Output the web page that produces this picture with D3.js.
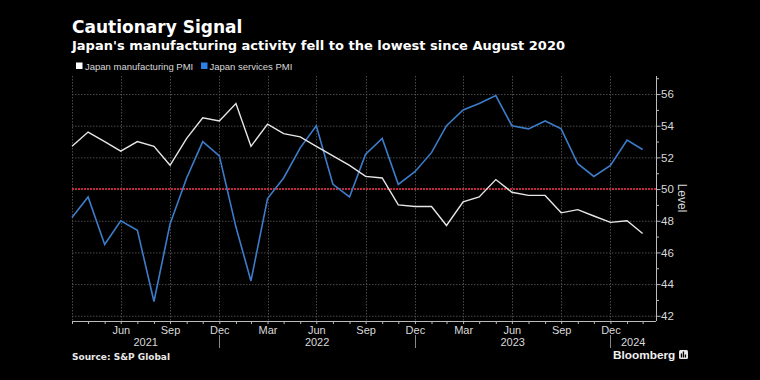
<!DOCTYPE html>
<html>
<head>
<meta charset="utf-8">
<script src="https://cdn.jsdelivr.net/npm/d3@7"></script>
<style>
html,body{margin:0;padding:0;background:#000;}
svg{display:block;}
</style>
</head>
<body>
<svg id="chart" width="760" height="380"></svg>
<script>
// ---- data ----
const months = [
  "2021-03","2021-04","2021-05","2021-06","2021-07","2021-08","2021-09","2021-10","2021-11","2021-12",
  "2022-01","2022-02","2022-03","2022-04","2022-05","2022-06","2022-07","2022-08","2022-09","2022-10","2022-11","2022-12",
  "2023-01","2023-02","2023-03","2023-04","2023-05","2023-06","2023-07","2023-08","2023-09","2023-10","2023-11","2023-12",
  "2024-01","2024-02"
];
const manufacturingPMI = [
  52.7,53.6,53.0,52.4,53.0,52.7,51.5,53.2,54.5,54.3,
  55.4,52.7,54.1,53.5,53.3,52.7,52.1,51.5,50.8,50.7,49.0,48.9,
  48.9,47.7,49.2,49.5,50.6,49.8,49.6,49.6,48.5,48.7,48.3,47.9,
  48.0,47.2
];
const servicesPMI = [
  48.2,49.5,46.5,48.0,47.4,42.9,47.8,50.7,53.0,52.1,
  47.6,44.2,49.4,50.7,52.6,54.0,50.3,49.5,52.2,53.2,50.3,51.1,
  52.3,54.0,55.0,55.4,55.9,54.0,53.8,54.3,53.8,51.6,50.8,51.5,
  53.1,52.5
];
const seriesNames = ["Japan manufacturing PMI","Japan services PMI"];
const yTicks = [42,44,46,48,50,52,54,56];
const yearLabels = ["2021","2022","2023","2024"];
const threshold = 50;

// ---- layout ----
const W = 760, H = 380;
const m = {left:72, right:656, top:76, bottom:321};
const colors = {manu:"#e6e6e6", serv:"#3d7cc9", servLegend:"#2f80e6", grid:"#4a4a4a", red:"#c0283c", text:"#d9d9d9"};

const parse = d3.utcParse("%Y-%m");
// month-end dates
const dates = months.map(s => d3.utcDay.offset(d3.utcMonth.offset(parse(s),1),-1));

const svg = d3.select("#chart");
svg.append("rect").attr("width",W).attr("height",H).attr("fill","#000");

const x = d3.scaleUtc()
  .domain([dates[0], d3.utcDay.offset(dates[dates.length-1], 25)])
  .range([m.left, m.right]);
const y = d3.scaleLinear().domain([41.67, 57.14]).range([m.bottom, m.top]);

// title
svg.append("text").attr("x",72).attr("y",33)
  .attr("font-family","DejaVu Sans").attr("font-weight","bold").attr("font-size",17)
  .attr("fill","#fff").text("Cautionary Signal");
svg.append("text").attr("x",72).attr("y",50)
  .attr("font-family","DejaVu Sans").attr("font-weight","bold").attr("font-size",13)
  .attr("fill","#fff").text("Japan's manufacturing activity fell to the lowest since August 2020");

// legend
const legend = svg.append("g").attr("font-family","Liberation Sans").attr("font-size",9.5).attr("fill",colors.text);
legend.append("rect").attr("x",76).attr("y",62.5).attr("width",6.5).attr("height",6.5).attr("fill","#fff");
legend.append("text").attr("x",85).attr("y",69.5).text(seriesNames[0]);
legend.append("rect").attr("x",201).attr("y",62.5).attr("width",6.5).attr("height",6.5).attr("fill",colors.servLegend);
legend.append("text").attr("x",209.5).attr("y",69.5).text(seriesNames[1]);

// gridlines
const allMonthEnds = d3.utcMonths(d3.utcMonth.floor(x.domain()[0]), x.domain()[1]).map(d => d3.utcDay.offset(d3.utcMonth.offset(d,1),-1))
  .filter(d => d >= x.domain()[0] && d <= x.domain()[1]);
const qGrid = allMonthEnds.filter(d => d.getUTCMonth() % 3 === 2);

svg.append("g").selectAll("line").data(yTicks).join("line")
  .attr("x1",m.left).attr("x2",m.right)
  .attr("y1",d=>y(d)+0.5).attr("y2",d=>y(d)+0.5)
  .attr("stroke",colors.grid).attr("stroke-width",1).attr("stroke-dasharray","1.5,1.5");
svg.append("g").selectAll("line").data(qGrid).join("line")
  .attr("x1",d=>Math.round(x(d))+0.5).attr("x2",d=>Math.round(x(d))+0.5)
  .attr("y1",m.top).attr("y2",m.bottom)
  .attr("stroke",colors.grid).attr("stroke-width",1).attr("stroke-dasharray","1.5,1.5");

// threshold line
svg.append("line").attr("x1",m.left).attr("x2",m.right)
  .attr("y1",y(threshold)).attr("y2",y(threshold))
  .attr("stroke",colors.red).attr("stroke-width",2).attr("stroke-dasharray","2,1");

// lines
const line = d3.line().x((d,i)=>x(dates[i])).y(d=>y(d));
svg.append("path").datum(servicesPMI).attr("d",line)
  .attr("fill","none").attr("stroke",colors.serv).attr("stroke-width",1.6).attr("stroke-linejoin","miter");
svg.append("path").datum(manufacturingPMI).attr("d",line)
  .attr("fill","none").attr("stroke",colors.manu).attr("stroke-width",1.4).attr("stroke-linejoin","miter");

// y axis (right)
const yMinor = d3.range(42,58,1);
const yAxis = svg.append("g").attr("transform",`translate(${m.right},0)`)
  .call(d3.axisRight(y).tickValues(yMinor).tickSize(3).tickFormat(""));
yAxis.select(".domain").attr("stroke","#bbb").attr("d",`M0.5,${m.top}V${m.bottom}`);
yAxis.selectAll(".tick line").attr("stroke","#bbb").attr("x1",0.5).attr("x2",d=>d%2===0?4.5:3);
const yLab = svg.append("g").attr("transform",`translate(${m.right},0)`)
  .call(d3.axisRight(y).tickValues(yTicks).tickSize(0).tickPadding(5).tickFormat(d3.format("d")));
yLab.select(".domain").remove();
yLab.selectAll("text").attr("fill",colors.text).attr("font-family","Liberation Sans").attr("font-size",11.5);

svg.append("text").attr("transform",`translate(678,198) rotate(90)`)
  .attr("text-anchor","middle").attr("font-family","Liberation Sans").attr("font-size",12)
  .attr("fill",colors.text).text("Level");

// x axis
const xAxisG = svg.append("g").attr("transform",`translate(0,${m.bottom})`)
  .call(d3.axisBottom(x).tickValues(allMonthEnds).tickSize(3).tickPadding(2)
    .tickFormat(d => (d.getUTCMonth()%3===2 && d > x.domain()[0]) ? d3.utcFormat("%b")(d) : ""));
xAxisG.select(".domain").attr("stroke","#bbb").attr("d",`M${m.left},0.5H${m.right}`);
xAxisG.selectAll(".tick line").attr("stroke","#bbb");
xAxisG.selectAll("text").attr("fill",colors.text).attr("font-family","Liberation Sans").attr("font-size",11);

// year separators and labels
const yearBounds = allMonthEnds.filter(d => d.getUTCMonth()===11);
svg.append("g").selectAll("line").data(yearBounds).join("line")
  .attr("x1",d=>Math.round(x(d))+0.5).attr("x2",d=>Math.round(x(d))+0.5)
  .attr("y1",335).attr("y2",348)
  .attr("stroke","#888").attr("stroke-width",1);
const edges = [x.range()[0], ...yearBounds.map(x), x.range()[1]];
svg.append("g").selectAll("text").data(yearLabels).join("text")
  .attr("x",(d,i)=>(edges[i]+edges[i+1])/2).attr("y",346)
  .attr("text-anchor","middle").attr("font-family","Liberation Sans").attr("font-size",11)
  .attr("fill",colors.text).text(d=>d);

// source & logo
svg.append("text").attr("x",72).attr("y",359.5)
  .attr("font-family","DejaVu Sans").attr("font-weight","bold").attr("font-size",9)
  .attr("fill","#e8e8e8").text("Source: S&P Global");
svg.append("text").attr("x",613).attr("y",358.5)
  .attr("font-family","Liberation Sans").attr("font-weight","bold").attr("font-size",11.8)
  .attr("fill","#f0f0f0").text("Bloomberg");
const logo = svg.append("g").attr("transform","translate(679,350)");
logo.append("rect").attr("width",9).attr("height",9).attr("rx",1.5).attr("fill","#e8e8e8");
logo.selectAll(".b").data([4,6,3]).join("rect").attr("x",(d,i)=>1.8+i*2).attr("y",d=>7.5-d).attr("width",1.3).attr("height",d=>d).attr("fill","#000");
</script>
</body>
</html>
